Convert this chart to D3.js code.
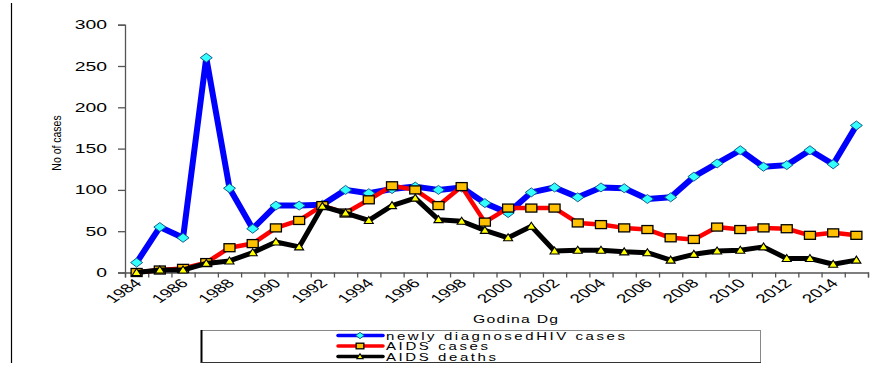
<!DOCTYPE html>
<html>
<head>
<meta charset="utf-8">
<script src="https://cdn.jsdelivr.net/npm/d3@7"></script>
<style>
  html, body { margin: 0; padding: 0; background: #fff; }
  svg { display: block; }
  text { font-family: "Liberation Sans", Arial, sans-serif; fill: #000; }
</style>
</head>
<body>
<svg id="chart" width="877" height="366"></svg>
<script>
// Yearly counts, 1984–2015
const years = d3.range(1984, 2016);
const hivCases = [12, 55, 42, 260, 102, 53, 81, 81, 82, 100, 96, 101, 104, 100, 103, 84, 72, 97, 103, 91, 103, 102, 89, 91, 116, 132, 148, 128, 130, 148, 131, 178];
const aidsCases = [0, 3, 5, 12, 30, 35, 54, 63, 81, 72, 88, 105, 100, 81, 104, 61, 78, 78, 78, 60, 58, 54, 52, 42, 40, 55, 52, 54, 53, 45, 48, 45];
const aidsDeaths = [0, 3, 3, 11, 14, 24, 37, 31, 80, 72, 63, 81, 90, 64, 62, 51, 42, 56, 26, 27, 27, 25, 24, 15, 22, 26, 27, 31, 17, 17, 10, 15];
const yTicks = [0, 50, 100, 150, 200, 250, 300];
const yearLabels = years.filter(y => (y - 1984) % 2 === 0);

const series = [
  { name: "newly diagnosedHIV cases", values: hivCases, color: "#0000ff", width: 6, marker: "diamond", fill: "#33ffff" },
  { name: "AIDS cases", values: aidsCases, color: "#ff0000", width: 4.5, marker: "square", fill: "#ffc000" },
  { name: "AIDS deaths", values: aidsDeaths, color: "#000000", width: 5, marker: "triangle", fill: "#ffff00" }
];

// the whole figure uses horizontally widened lettering
const STRETCH = 1.5;

const svg = d3.select("#chart");

const x = d3.scaleBand().domain(years).range([125, 868]);
const cx = yr => x(yr) + x.bandwidth() / 2;
const y = d3.scaleLinear().domain([0, 300]).range([272.5, 24.7]);

// page margin rule on the left
svg.append("line").attr("x1", 11.5).attr("x2", 11.5).attr("y1", 3).attr("y2", 363)
  .attr("stroke", "#000").attr("stroke-width", 1.2);

// y axis
const yAxis = d3.axisLeft(y).tickValues(yTicks).tickSize(7).tickFormat("");
const gy = svg.append("g").attr("transform", "translate(125,0)").call(yAxis);
gy.select(".domain").attr("stroke", "#555").attr("stroke-width", 1.3);
gy.selectAll(".tick line").attr("stroke", "#555").attr("stroke-width", 1.3);

svg.append("g").selectAll("text").data(yTicks).join("text")
  .attr("transform", d => `translate(107,${y(d) + 4.5}) scale(1.55,1)`)
  .attr("text-anchor", "end")
  .attr("font-size", 12.5)
  .text(d => d);

svg.append("text")
  .attr("transform", "translate(61,143) scale(1.15,1) rotate(-90)")
  .attr("text-anchor", "middle")
  .attr("font-size", 10.5)
  .text("No of cases");

// x axis: ticks sit on category boundaries
const xb = d3.scaleLinear().domain([0, years.length]).range([125, 868]);
const xAxis = d3.axisBottom(xb).tickValues(d3.range(0, years.length + 1)).tickSize(5).tickFormat("");
const gx = svg.append("g").attr("transform", "translate(0,272.5)").call(xAxis);
gx.select(".domain").attr("stroke", "#555").attr("stroke-width", 1.3);
gx.selectAll(".tick line").attr("stroke", "#555").attr("stroke-width", 1.3);

svg.append("g").selectAll("text").data(yearLabels).join("text")
  .attr("transform", d => `translate(${cx(d) + 6},284) scale(${STRETCH},1) rotate(-45)`)
  .attr("text-anchor", "end")
  .attr("font-size", 12.5)
  .text(d => d);

svg.append("text")
  .attr("transform", `translate(473,323) scale(${STRETCH},1)`)
  .attr("font-size", 10.5)
  .attr("textLength", 85 / STRETCH).attr("lengthAdjust", "spacing")
  .text("Godina Dg");

// marker shapes
function drawMarker(g, type, fill, px, py, k) {
  if (type === "diamond") {
    g.append("path").attr("d", `M${px},${py - 4.5 * k}L${px + 6 * k},${py}L${px},${py + 4.5 * k}L${px - 6 * k},${py}Z`)
      .attr("fill", fill).attr("stroke", "#1a5c8a").attr("stroke-width", 1);
  } else if (type === "square") {
    g.append("rect").attr("x", px - 5.5 * k).attr("y", py - 4 * k).attr("width", 11 * k).attr("height", 8 * k)
      .attr("fill", fill).attr("stroke", "#000").attr("stroke-width", 1.3);
  } else {
    g.append("path").attr("d", `M${px},${py - 4 * k}L${px + 4.5 * k},${py + 3 * k}L${px - 4.5 * k},${py + 3 * k}Z`)
      .attr("fill", fill).attr("stroke", "#000").attr("stroke-width", 1.1);
  }
}

const line = d3.line().x((d, i) => cx(years[i])).y(d => y(d));

series.forEach(s => {
  const g = svg.append("g");
  g.append("path").datum(s.values).attr("d", line)
    .attr("fill", "none").attr("stroke", s.color).attr("stroke-width", s.width)
    .attr("stroke-linejoin", "round").attr("stroke-linecap", "round");
  s.values.forEach((v, i) => drawMarker(g, s.marker, s.fill, cx(years[i]), y(v), 1));
});

// legend
const lg = svg.append("g");
lg.append("rect").attr("x", 201.5).attr("y", 330.5).attr("width", 559).attr("height", 32)
  .attr("fill", "#fff").attr("stroke", "#888").attr("stroke-width", 1);
lg.append("line").attr("x1", 201.5).attr("x2", 201.5).attr("y1", 330).attr("y2", 363)
  .attr("stroke", "#000").attr("stroke-width", 2);
lg.append("line").attr("x1", 201).attr("x2", 761).attr("y1", 362.5).attr("y2", 362.5)
  .attr("stroke", "#333").attr("stroke-width", 1.2);
const textWidths = [239, 102, 110];
series.forEach((s, i) => {
  const ly = 335.5 + i * 10.5;
  lg.append("line").attr("x1", 338).attr("x2", 383).attr("y1", ly).attr("y2", ly)
    .attr("stroke", s.color).attr("stroke-width", 3.5).attr("stroke-linecap", "round");
  drawMarker(lg, s.marker, s.fill, 360, ly, 0.7);
  lg.append("text")
    .attr("transform", `translate(386,${ly + 4}) scale(${STRETCH},1)`)
    .attr("font-size", 10)
    .attr("textLength", textWidths[i] / STRETCH).attr("lengthAdjust", "spacing")
    .text(s.name);
});
</script>
</body>
</html>
